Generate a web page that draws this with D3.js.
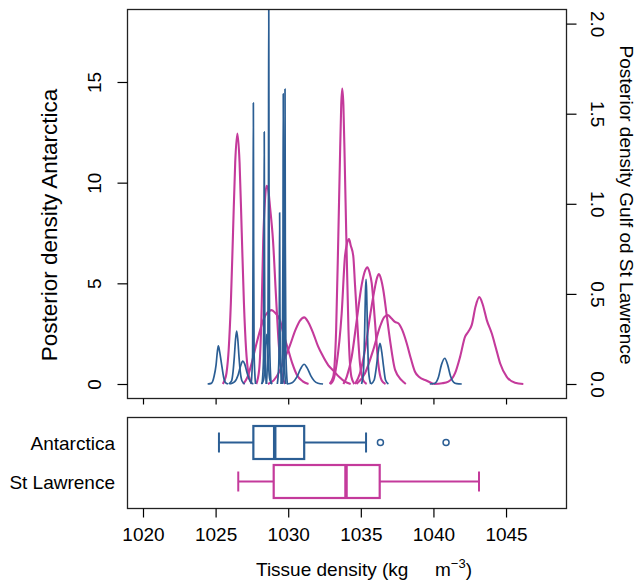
<!DOCTYPE html>
<html><head><meta charset="utf-8">
<script src="https://cdn.jsdelivr.net/npm/d3@7"></script>
<style>
body{margin:0;background:#fff}
svg{display:block}
text{font-family:"Liberation Sans",Arial,Helvetica,sans-serif;fill:#000}
</style>
</head><body>
<svg id="c" width="637" height="585"></svg>
<script>
// ---------------- DATA ----------------
const xTicks = [1020, 1025, 1030, 1035, 1040, 1045];
const leftTicks = [0, 5, 10, 15];
const rightTicks = [0, 0.5, 1, 1.5, 2];

// Posterior densities, Antarctica (left axis): [tissue density, density]
const antarcticaCurves = [
  [[1024.45,0],[1024.7,0.03],[1024.9,0.4],[1025.03,0.94],[1025.12,1.6],[1025.19,1.89],[1025.28,1.6],[1025.42,0.94],[1025.55,0.35],[1025.7,0.05],[1025.85,0]],
  [[1025.9,0],[1026.1,0.15],[1026.2,0.6],[1026.29,1.36],[1026.37,2.2],[1026.45,2.63],[1026.53,2.2],[1026.61,1.36],[1026.7,0.6],[1026.82,0.15],[1027.0,0]],
  [[1026.0,0],[1026.3,0.1],[1026.55,0.45],[1026.72,0.9],[1026.87,1.14],[1027.0,1.0],[1027.15,0.6],[1027.3,0.25],[1027.45,0.06],[1027.6,0]],
  [[1027.45,0],[1027.55,1.5],[1027.58,7],[1027.6,13.96],[1027.62,7],[1027.65,1.5],[1027.75,0]],
  [[1028.2,0],[1028.3,1.3],[1028.33,6],[1028.35,12.52],[1028.37,6],[1028.4,1.3],[1028.5,0]],
  [[1028.15,0],[1028.3,0.2],[1028.4,1.0],[1028.46,2.0],[1028.52,2.47],[1028.58,2.0],[1028.64,1.0],[1028.74,0.2],[1028.9,0]],
  [[1028.5,0],[1028.6,2],[1028.64,9],[1028.66,19.5],[1028.68,9],[1028.72,2],[1028.82,0]],
  [[1029.25,0],[1029.35,1],[1029.39,4],[1029.41,8.5],[1029.43,4],[1029.47,1],[1029.57,0]],
  [[1029.5,0],[1029.6,1.5],[1029.64,7],[1029.66,14.41],[1029.68,7],[1029.72,1.5],[1029.82,0]],
  [[1029.62,0],[1029.72,1.5],[1029.76,7],[1029.78,14.65],[1029.8,7],[1029.84,1.5],[1029.94,0]],
  [[1029.9,0],[1030.3,0.08],[1030.6,0.35],[1030.85,0.75],[1031.1,0.98],[1031.3,0.8],[1031.55,0.42],[1031.8,0.15],[1032.05,0.04],[1032.4,0]],
  [[1035.05,0],[1035.18,0.6],[1035.26,2.5],[1035.32,4.6],[1035.36,5.2],[1035.4,4.6],[1035.46,2.5],[1035.54,0.6],[1035.68,0]],
  [[1035.7,0],[1035.92,0.2],[1036.08,0.9],[1036.2,1.6],[1036.32,2.02],[1036.44,1.6],[1036.56,0.9],[1036.7,0.2],[1036.9,0]],
  [[1039.75,0],[1040.1,0.04],[1040.35,0.35],[1040.55,0.95],[1040.78,1.28],[1040.98,0.95],[1041.18,0.38],[1041.4,0.08],[1041.6,0.02],[1041.95,0]]
];

// Posterior densities, Gulf of St Lawrence (right axis)
const stLawrenceCurves = [
  [[1025.5,0],[1025.6,0.017],[1025.75,0.061],[1025.9,0.19],[1026.05,0.45],[1026.2,0.84],[1026.35,1.23],[1026.5,1.39],[1026.65,1.23],[1026.8,0.84],[1026.95,0.45],[1027.1,0.19],[1027.25,0.061],[1027.4,0.017],[1027.5,0]],
  [[1027.8,0],[1028.0,0.08],[1028.15,0.35],[1028.28,0.8],[1028.4,1.02],[1028.5,1.1],[1028.62,1.08],[1028.75,0.98],[1028.95,0.8],[1029.15,0.5],[1029.35,0.22],[1029.55,0.06],[1029.8,0]],
  [[1026.9,0],[1027.2,0.04],[1027.5,0.12],[1027.71,0.19],[1028.0,0.28],[1028.28,0.355],[1028.6,0.40],[1028.86,0.41],[1029.1,0.395],[1029.43,0.355],[1029.7,0.27],[1030.0,0.19],[1030.3,0.11],[1030.6,0.05],[1031.0,0.015],[1031.4,0]],
  [[1028.6,0],[1029.0,0.02],[1029.4,0.07],[1029.8,0.15],[1030.1,0.21],[1030.5,0.3],[1030.8,0.35],[1031.1,0.37],[1031.4,0.34],[1031.73,0.28],[1032.05,0.21],[1032.42,0.15],[1032.75,0.105],[1033.1,0.075],[1033.5,0.04],[1033.9,0.013],[1034.3,0]],
  [[1032.85,0],[1033.1,0.04],[1033.3,0.3],[1033.45,0.82],[1033.55,1.2],[1033.65,1.55],[1033.72,1.64],[1033.8,1.55],[1033.9,1.2],[1034.0,0.82],[1034.15,0.3],[1034.35,0.04],[1034.55,0]],
  [[1032.9,0],[1033.1,0.02],[1033.34,0.115],[1033.68,0.39],[1033.91,0.71],[1034.05,0.78],[1034.19,0.805],[1034.3,0.77],[1034.48,0.71],[1034.6,0.55],[1034.72,0.39],[1034.94,0.115],[1035.17,0.02],[1035.4,0]],
  [[1033.8,0],[1034.03,0.04],[1034.37,0.15],[1034.72,0.355],[1035.06,0.55],[1035.3,0.63],[1035.45,0.648],[1035.6,0.62],[1035.75,0.56],[1035.98,0.34],[1036.2,0.115],[1036.44,0.02],[1036.7,0]],
  [[1034.6,0],[1034.94,0.06],[1035.29,0.19],[1035.63,0.374],[1035.98,0.54],[1036.12,0.59],[1036.25,0.61],[1036.4,0.58],[1036.55,0.52],[1036.78,0.383],[1037.01,0.244],[1037.36,0.078],[1037.82,0.02],[1038.1,0]],
  [[1034.7,0],[1035.29,0.06],[1035.86,0.19],[1036.32,0.318],[1036.6,0.37],[1036.85,0.383],[1037.1,0.365],[1037.35,0.345],[1037.58,0.337],[1037.85,0.3],[1038.16,0.226],[1038.45,0.14],[1038.73,0.068],[1039.0,0.04],[1039.54,0.018],[1040.0,0]],
  [[1040.0,0],[1040.6,0.004],[1041.03,0.013],[1041.49,0.06],[1041.84,0.152],[1042.18,0.263],[1042.4,0.29],[1042.64,0.328],[1042.9,0.43],[1043.16,0.482],[1043.4,0.44],[1043.67,0.356],[1044.02,0.28],[1044.3,0.2],[1044.59,0.115],[1045.05,0.04],[1045.62,0.007],[1046.19,0]]
];

// Boxplot statistics
const boxCategories = ["Antarctica", "St Lawrence"];
const boxLow    = [1025.23, 1026.56];
const boxQ1     = [1027.6, 1029.0];
const boxMedian = [1029.07, 1033.98];
const boxQ3     = [1031.1, 1036.3];
const boxHigh   = [1035.36, 1043.14];
const boxOutliers = [[1036.35, 1040.87], []];

const seriesColors = ["#2b5e94", "#c43a9b"];

// ---------------- DRAW ----------------
const svg = d3.select("#c");
const PL = 127, PR = 566, T1 = 9, B1 = 398, T2 = 417, B2 = 508;

const x = d3.scaleLinear().domain([1020, 1048]).range([143, 549.6]);
const yL = d3.scaleLinear().domain([0, 17.9]).range([384, 23.6]);
const yR = d3.scaleLinear().domain([0, 2]).range([384, 23.6]);
const yBox = d3.scalePoint().domain(boxCategories).range([442.5, 481.5]);
const boxHalf = 16.5;

svg.append("defs").append("clipPath").attr("id", "clipTop")
  .append("rect").attr("x", PL).attr("y", T1).attr("width", PR - PL).attr("height", B1 - T1);

const curves = svg.append("g").attr("clip-path", "url(#clipTop)");
const lineR = d3.line().x(d => x(d[0])).y(d => yR(d[1])).curve(d3.curveMonotoneX);
const lineL = d3.line().x(d => x(d[0])).y(d => yL(d[1])).curve(d3.curveMonotoneX);

curves.selectAll("path.sl").data(stLawrenceCurves).join("path")
  .attr("class", "sl").attr("d", lineR).attr("fill", "none")
  .attr("stroke", seriesColors[1]).attr("stroke-width", 2.1).attr("stroke-linejoin", "round");
curves.selectAll("path.an").data(antarcticaCurves).join("path")
  .attr("class", "an").attr("d", lineL).attr("fill", "none")
  .attr("stroke", seriesColors[0]).attr("stroke-width", 1.7).attr("stroke-linejoin", "round");

// frames
svg.append("rect").attr("x", PL + 0.5).attr("y", T1 + 0.5).attr("width", PR - PL).attr("height", B1 - T1)
  .attr("fill", "none").attr("stroke", "#222").attr("stroke-width", 1.3);
svg.append("rect").attr("x", PL + 0.5).attr("y", T2 + 0.5).attr("width", PR - PL).attr("height", B2 - T2)
  .attr("fill", "none").attr("stroke", "#222").attr("stroke-width", 1.3);

const FS = 19;
// left axis
const axL = svg.append("g").attr("transform", `translate(${PL + 0.5},0)`)
  .call(d3.axisLeft(yL).tickValues(leftTicks).tickSize(10).tickSizeOuter(0).tickFormat(d3.format("d")));
axL.select(".domain").remove();
axL.selectAll("line").attr("stroke", "#000").attr("stroke-width", 1.2);
axL.selectAll("text").attr("transform", "rotate(-90)").attr("x", 0).attr("y", -27).attr("dy", 0)
  .attr("text-anchor", "middle").style("font-size", FS + "px").style("font-family", "Liberation Sans, Arial, sans-serif");

// right axis
const axR = svg.append("g").attr("transform", `translate(${PR + 0.5},0)`)
  .call(d3.axisRight(yR).tickValues(rightTicks).tickSize(10).tickSizeOuter(0).tickFormat(d3.format(".1f")));
axR.select(".domain").remove();
axR.selectAll("line").attr("stroke", "#000").attr("stroke-width", 1.2);
axR.selectAll("text").attr("transform", "rotate(90)").attr("x", 0).attr("y", -24).attr("dy", 0)
  .attr("text-anchor", "middle").style("font-size", FS + "px").style("font-family", "Liberation Sans, Arial, sans-serif");

// top-panel x ticks (no labels)
const axT = svg.append("g").attr("transform", `translate(0,${B1 + 0.5})`)
  .call(d3.axisBottom(x).tickValues(xTicks).tickSize(6).tickSizeOuter(0).tickFormat(""));
axT.select(".domain").remove();
axT.selectAll("line").attr("stroke", "#000").attr("stroke-width", 1.2);

// bottom x axis
const axB = svg.append("g").attr("transform", `translate(0,${B2 + 0.5})`)
  .call(d3.axisBottom(x).tickValues(xTicks).tickSize(9).tickSizeOuter(0).tickFormat(d3.format("d")));
axB.select(".domain").remove();
axB.selectAll("line").attr("stroke", "#000").attr("stroke-width", 1.2);
axB.selectAll("text").attr("y", 32).attr("dy", 0).style("font-size", FS + "px")
  .style("font-family", "Liberation Sans, Arial, sans-serif");

// boxplots
const bp = svg.append("g");
boxCategories.forEach((cat, i) => {
  const cy = yBox(cat), col = seriesColors[i];
  const g = bp.append("g").attr("stroke", col).attr("fill", "none");
  g.append("line").attr("x1", x(boxLow[i])).attr("x2", x(boxQ1[i])).attr("y1", cy).attr("y2", cy).attr("stroke-width", 2);
  g.append("line").attr("x1", x(boxQ3[i])).attr("x2", x(boxHigh[i])).attr("y1", cy).attr("y2", cy).attr("stroke-width", 2);
  g.append("line").attr("x1", x(boxLow[i])).attr("x2", x(boxLow[i])).attr("y1", cy - 10).attr("y2", cy + 10).attr("stroke-width", 2);
  g.append("line").attr("x1", x(boxHigh[i])).attr("x2", x(boxHigh[i])).attr("y1", cy - 10).attr("y2", cy + 10).attr("stroke-width", 2);
  g.append("rect").attr("x", x(boxQ1[i])).attr("y", cy - boxHalf).attr("width", x(boxQ3[i]) - x(boxQ1[i]))
    .attr("height", 2 * boxHalf).attr("stroke-width", 2.2);
  g.append("line").attr("x1", x(boxMedian[i])).attr("x2", x(boxMedian[i])).attr("y1", cy - boxHalf).attr("y2", cy + boxHalf).attr("stroke-width", 3.5);
  g.selectAll("circle").data(boxOutliers[i]).join("circle")
    .attr("cx", d => x(d)).attr("cy", cy).attr("r", 3).attr("stroke-width", 1.5).attr("fill", "#fff");
  svg.append("text").attr("x", 115).attr("y", cy + 7).attr("text-anchor", "end")
    .style("font-size", FS + "px").text(cat);
});

// titles
svg.append("text").attr("transform", "translate(57,225) rotate(-90)").attr("text-anchor", "middle")
  .style("font-size", "22.5px").text("Posterior density Antarctica");
svg.append("text").attr("transform", "translate(620,205) rotate(90)").attr("text-anchor", "middle")
  .style("font-size", FS + "px").text("Posterior density Gulf od St Lawrence");

const xt = svg.append("text").attr("x", 256).attr("y", 576).style("font-size", FS + "px");
xt.append("tspan").text("Tissue density (kg");
xt.append("tspan").attr("x", 435).text("m");
xt.append("tspan").attr("dy", -8).style("font-size", "13px").text("\u22123");
xt.append("tspan").attr("dy", 8).text(")");
</script>
</body></html>
